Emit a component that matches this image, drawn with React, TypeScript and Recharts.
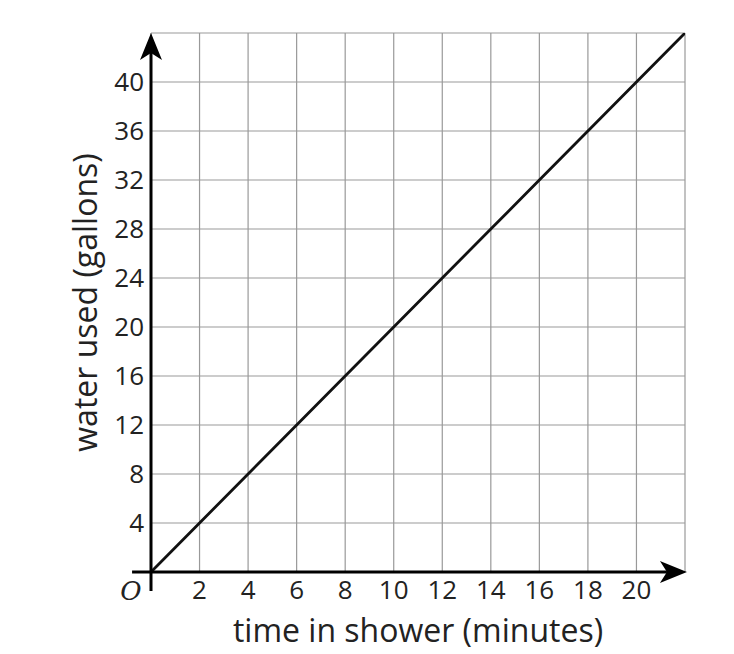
import { LineChart, Line, XAxis, YAxis, CartesianGrid, ReferenceLine } from "recharts"

const minutes = [0, 2, 4, 6, 8, 10, 12, 14, 16, 18, 20, 22]
const gallons = [0, 4, 8, 12, 16, 20, 24, 28, 32, 36, 40, 44]
const xTicks = [0, 2, 4, 6, 8, 10, 12, 14, 16, 18, 20, 22]
const yTicks = [0, 4, 8, 12, 16, 20, 24, 28, 32, 36, 40, 44]

const data = minutes.map((m, i) => ({ m, g: gallons[i] }))

const FONT = "'Open Sans', sans-serif"

// line with a notched arrowhead at its end
const ArrowAxis = (props: any) => {
  const { x1, y1, x2, y2 } = props
  const dx = x2 - x1
  const dy = y2 - y1
  const len = Math.sqrt(dx * dx + dy * dy) || 1
  const ux = dx / len
  const uy = dy / len
  const px = -uy
  const py = ux
  const head = 27
  const half = 11
  const notch = 7
  const bx = x2 - ux * head
  const by = y2 - uy * head
  const nx = bx + ux * notch
  const ny = by + uy * notch
  const pts = [
    [x2, y2],
    [bx + px * half, by + py * half],
    [nx, ny],
    [bx - px * half, by - py * half],
  ]
  return (
    <g>
      <line x1={x1} y1={y1} x2={nx} y2={ny} stroke="#000" strokeWidth={3} />
      <polygon points={pts.map((p) => p.join(",")).join(" ")} fill="#000" />
    </g>
  )
}

const XTick = ({ x, y, payload }: any) => {
  const v = payload.value
  if (v === 22) return null
  if (v === 0) {
    return (
      <text x={x - 20} y={y + 19} fontSize={26} fontFamily="'DejaVu Serif', serif" fontStyle="italic" textAnchor="middle" fill="#222">
        O
      </text>
    )
  }
  return (
    <text x={x} y={y + 18} fontSize={26} fontFamily={FONT} textAnchor="middle" fill="#222">
      {v}
    </text>
  )
}

const YTick = ({ x, y, payload }: any) => {
  const v = payload.value
  if (v === 0 || v === 44) return null
  return (
    <text x={x} y={y + 9} fontSize={26} fontFamily={FONT} textAnchor="end" fill="#222">
      {v}
    </text>
  )
}

const YTitle = ({ viewBox }: any) => {
  const cx = viewBox.x + 84
  const cy = viewBox.y + viewBox.height / 2
  return (
    <text
      x={cx}
      y={cy}
      transform={`rotate(-90 ${cx} ${cy})`}
      textAnchor="middle"
      dominantBaseline="central"
      fontSize={32}
      fontFamily={FONT}
      fill="#222"
    >
      water used (gallons)
    </text>
  )
}

const XTitle = ({ viewBox }: any) => {
  const cx = viewBox.x + viewBox.width / 2
  return (
    <text x={cx} y={viewBox.y + 70} textAnchor="middle" fontSize={32} fontFamily={FONT} fill="#222">
      time in shower (minutes)
    </text>
  )
}

export default function App() {
  return (
    <div style={{ position: "absolute", left: 0, top: 0, background: "#fff" }}>
      <LineChart width={734} height={654} data={data} margin={{ top: 33, right: 49, bottom: 0, left: 0 }}>
        <CartesianGrid stroke="#999" strokeWidth={1.2} />
        <XAxis
          dataKey="m"
          type="number"
          domain={[0, 22]}
          ticks={xTicks}
          allowDataOverflow
          axisLine={false}
          tickLine={false}
          tickSize={0}
          tickMargin={9}
          height={82}
          tick={<XTick />}
          label={<XTitle />}
        />
        <YAxis
          type="number"
          domain={[0, 44]}
          ticks={yTicks}
          allowDataOverflow
          axisLine={false}
          tickLine={false}
          tickSize={0}
          tickMargin={7}
          width={151}
          tick={<YTick />}
          label={<YTitle />}
        />
        <Line
          dataKey="g"
          type="linear"
          stroke="#111"
          strokeWidth={2.8}
          dot={false}
          activeDot={false}
          isAnimationActive={false}
        />
        <ReferenceLine
          segment={[{ x: -0.78, y: 0 }, { x: 22.08, y: 0 }]}
          ifOverflow="visible"
          shape={<ArrowAxis />}
        />
        <ReferenceLine
          segment={[{ x: 0, y: -1.55 }, { x: 0, y: 44 }]}
          ifOverflow="visible"
          shape={<ArrowAxis />}
        />
      </LineChart>
    </div>
  )
}
